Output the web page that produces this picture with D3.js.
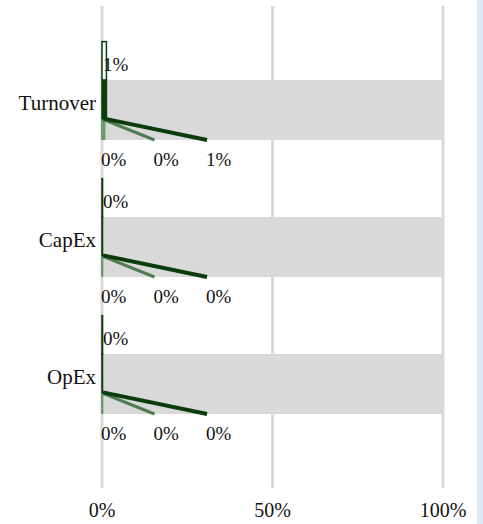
<!DOCTYPE html>
<html>
<head>
<meta charset="utf-8">
<script src="https://cdn.jsdelivr.net/npm/d3@7"></script>
<style>
  body { margin: 0; background: #fff; }
  svg { display: block; }
  text { font-family: "Liberation Serif", "Times New Roman", serif; fill: #111; }
</style>
</head>
<body>
<svg id="chart" width="483" height="524"></svg>
<script>
// chart data (shares, 0..1)
const categories = ["Turnover", "CapEx", "OpEx"];
const eligibleValues = [0.013, 0.0, 0.0];   // outlined bar above the band
const alignedValues = [0.013, 0.0, 0.0];    // dark fill inside the band
const otherValues = [0.010, 0.004, 0.004];  // light green part at the band bottom
const totalValues = [1, 1, 1];              // grey background bar
const breakdownKeys = ["a", "b", "c"];
const breakdownValues = [
  [0.002, 0.003, 0.008],
  [0.0, 0.0, 0.001],
  [0.0, 0.0, 0.001],
];
const tickValues = [0, 0.5, 1];

const W = 483, H = 524;
const darkGreen = "#0a3d0a";
const midGreen = "#4c7c50";
const lightGreen = "#6c9a6f";
const grey = "#d9d9d9";
const pct = d3.format(".0%");

const svg = d3.select("#chart");

// right edge strip
svg.append("rect")
  .attr("x", 477).attr("y", 0)
  .attr("width", W - 477).attr("height", H)
  .attr("fill", "#dde9f4");

const x = d3.scaleLinear().domain([0, 1]).range([102, 443]);
const y = d3.scaleBand()
  .domain(categories)
  .range([6, 488])
  .paddingInner(0.562)
  .paddingOuter(0.54);
const bw = y.bandwidth();
const split = bw * 0.64;
// slots for the breakdown labels under each band
const slot = d3.scalePoint().domain(breakdownKeys).range([0, 105]);

// grid
svg.append("g")
  .selectAll("line")
  .data(tickValues)
  .join("line")
  .attr("x1", (d) => x(d)).attr("x2", (d) => x(d))
  .attr("y1", 6).attr("y2", 488)
  .attr("stroke", grey)
  .attr("stroke-width", 3);

svg.append("g")
  .selectAll("text")
  .data(tickValues)
  .join("text")
  .attr("x", (d) => x(d))
  .attr("y", 517)
  .attr("text-anchor", "middle")
  .attr("font-size", "20px")
  .text(pct);

const groups = svg.append("g")
  .selectAll("g.cat")
  .data(categories)
  .join("g")
  .attr("class", "cat")
  .attr("transform", (d) => `translate(0,${y(d)})`);

// category labels
groups.append("text")
  .attr("x", 96)
  .attr("y", bw / 2)
  .attr("text-anchor", "end")
  .attr("font-size", "21px")
  .text((d) => d);

// grey 100% bar
groups.append("rect")
  .attr("x", x(0))
  .attr("y", 0)
  .attr("width", (d, i) => x(totalValues[i]) - x(0))
  .attr("height", bw)
  .attr("fill", grey);

// light part
groups.append("rect")
  .attr("x", x(0) - 1)
  .attr("y", split)
  .attr("width", (d, i) => Math.max(x(otherValues[i]) - x(0), 1) + 1)
  .attr("height", bw - split)
  .attr("fill", lightGreen);

// aligned dark fill
groups.append("rect")
  .attr("x", x(0))
  .attr("y", 0)
  .attr("width", (d, i) => Math.max(x(alignedValues[i]) - x(0), 0.5))
  .attr("height", split)
  .attr("fill", darkGreen)
  .attr("stroke", darkGreen)
  .attr("stroke-width", 1.5);

// connector lines to breakdown labels
groups.append("line")
  .attr("x1", x(0) + 1).attr("y1", split + 1)
  .attr("x2", x(0) + slot("b")).attr("y2", bw)
  .attr("stroke", midGreen)
  .attr("stroke-width", 3);

groups.append("line")
  .attr("x1", x(0) + 1).attr("y1", split)
  .attr("x2", x(0) + slot("c")).attr("y2", bw)
  .attr("stroke", darkGreen)
  .attr("stroke-width", 4);

// eligible outlined bar above the band
groups.append("rect")
  .attr("x", x(0))
  .attr("y", -split)
  .attr("width", (d, i) => Math.max(x(eligibleValues[i]) - x(0), 0.5))
  .attr("height", split)
  .attr("fill", "#fff")
  .attr("stroke", darkGreen)
  .attr("stroke-width", 1.5);

groups.append("text")
  .attr("x", x(0) + 1)
  .attr("y", -9)
  .attr("font-size", "19px")
  .text((d, i) => pct(eligibleValues[i]));

// breakdown labels
groups.each(function (d, i) {
  d3.select(this)
    .selectAll("text.bd")
    .data(breakdownValues[i])
    .join("text")
    .attr("class", "bd")
    .attr("x", (v, j) => x(0) + slot(breakdownKeys[j]) - 1)
    .attr("y", bw + 26)
    .attr("font-size", "19px")
    .text((v) => pct(v));
});
</script>
</body>
</html>
